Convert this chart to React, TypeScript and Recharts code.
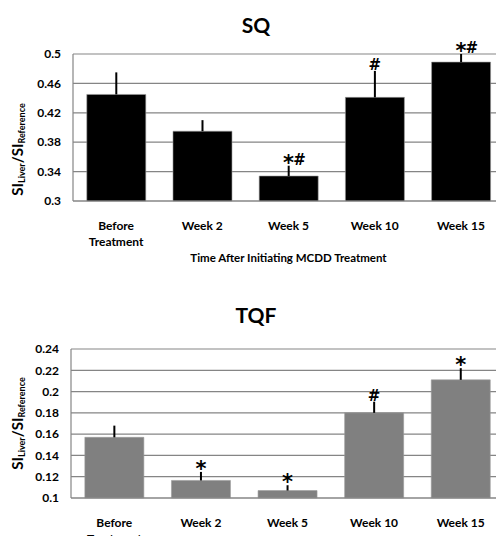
import React from "react"
import { Bar, ComposedChart, Line, XAxis, YAxis, CartesianGrid, ErrorBar, LabelList, Label } from "recharts"

const categories = ["Before\nTreatment", "Week 2", "Week 5", "Week 10", "Week 15"]

const sqValues = [0.445, 0.395, 0.334, 0.441, 0.489]
const sqErrors = [0.03, 0.015, 0.014, 0.036, 0.011]
const sqMarks = ["", "", "*#", "#", "*#"]
const sqTicks = [0.3, 0.34, 0.38, 0.42, 0.46, 0.5]

const tqfValues = [0.157, 0.1165, 0.107, 0.18, 0.211]
const tqfErrors = [0.011, 0.008, 0.005, 0.0105, 0.011]
const tqfMarks = ["", "*", "*", "#", "*"]
const tqfTicks = [0.1, 0.12, 0.14, 0.16, 0.18, 0.2, 0.22, 0.24]

const FONT = "Lato, 'Open Sans', sans-serif"
const GRID = "#858585"

const buildRows = (values: number[], errors: number[], marks: string[]) =>
  categories.map((name, i) => ({
    name,
    value: values[i],
    err: [0, errors[i]],
    top: values[i] + errors[i],
    mark: marks[i],
  }))

function CategoryTick({ x, y, payload }: any) {
  const lines = String(payload.value).split("\n")
  return (
    <text x={x} y={y + 21} textAnchor="middle" fontFamily={FONT} fontWeight={700} fontSize={12} fill="#000">
      {lines.map((l, i) => (
        <tspan key={i} x={x} dy={i === 0 ? 0 : 16}>
          {l}
        </tspan>
      ))}
    </text>
  )
}

// significance marks: '*' sits high in the font, so it gets its own baseline
function renderMark(props: any) {
  const { x, y, value } = props
  if (!value) return null
  const chars = String(value).split("")
  return (
    <text x={x} y={y} textAnchor="middle" fontWeight={700} fill="#000" fontFamily="'DejaVu Sans', sans-serif">
      {chars.map((c, i) =>
        c === "*" ? (
          <tspan key={i} y={y + 4} fontSize={21}>
            *
          </tspan>
        ) : (
          <tspan key={i} y={y - 1} fontSize={15}>
            {c}
          </tspan>
        )
      )}
    </text>
  )
}

function yLabel(shift: number) {
  return (props: any) => {
    const vb = props.viewBox || {}
    const cx = 17
    const cy = vb.y + vb.height / 2 + shift
    return (
      <text
        x={cx}
        y={cy}
        transform={`rotate(-90, ${cx}, ${cy})`}
        textAnchor="middle"
        dominantBaseline="central"
        fontFamily={FONT}
        fontWeight={700}
        fill="#000"
      >
        <tspan fontSize={15}>SI</tspan>
        <tspan fontSize={9} dy={4}>Liver</tspan>
        <tspan fontSize={15} dy={-4}>/SI</tspan>
        <tspan fontSize={9} dy={4}>Reference</tspan>
      </text>
    )
  }
}

type PanelProps = {
  title: string
  titleTop: number
  rows: any[]
  ticks: number[]
  color: string
  height: number
  marginTop: number
  axisHeight: number
  axisWidth: number
  labelShift: number
  xTitle?: string
}

function Panel(p: PanelProps) {
  return (
    <div style={{ position: "relative", width: 496, height: p.height, overflow: "hidden" }}>
      <div
        style={{
          position: "absolute",
          top: p.titleTop,
          left: 0,
          width: 512,
          textAlign: "center",
          fontFamily: FONT,
          fontWeight: 700,
          fontSize: 21,
          color: "#000",
          lineHeight: "24px",
        }}
      >
        {p.title}
      </div>
      <ComposedChart
        width={512}
        height={p.height + 40}
        data={p.rows}
        margin={{ top: p.marginTop, right: 8, bottom: 0, left: 0 }}
        barCategoryGap="16%"
      >
        <CartesianGrid vertical={false} stroke={GRID} strokeWidth={1.2} />
        <XAxis
          dataKey="name"
          interval={0}
          tickLine={false}
          axisLine={{ stroke: GRID, strokeWidth: 1.2 }}
          height={p.axisHeight}
          tick={<CategoryTick />}
        >
          {p.xTitle && (
            <Label
              value={p.xTitle}
              position="insideBottom"
              offset={p.axisHeight - 61}
              style={{ fontFamily: FONT, fontWeight: 700, fontSize: 11.5, fill: "#000" }}
            />
          )}
        </XAxis>
        <YAxis
          type="number"
          domain={[p.ticks[0], p.ticks[p.ticks.length - 1]]}
          ticks={p.ticks}
          interval={0}
          width={p.axisWidth}
          tickLine={false}
          tickSize={10}
          axisLine={{ stroke: GRID, strokeWidth: 1.2 }}
          tick={{ fontFamily: FONT, fontWeight: 700, fontSize: 12, fill: "#000" }}
        >
          <Label content={yLabel(p.labelShift)} />
        </YAxis>
        <Bar dataKey="value" fill={p.color} stroke="#9a9a9a" strokeWidth={0.6} isAnimationActive={false}>
          <ErrorBar dataKey="err" direction="y" width={0} stroke="#000" strokeWidth={2} />
        </Bar>
        <Line dataKey="top" stroke="none" dot={false} activeDot={false} isAnimationActive={false}>
          <LabelList dataKey="mark" content={renderMark} />
        </Line>
      </ComposedChart>
    </div>
  )
}

export default function App() {
  return (
    <div style={{ position: "absolute", left: 0, top: 0, width: 496, height: 536, overflow: "hidden", background: "#fff" }}>
      <Panel
        title="SQ"
        titleTop={13}
        rows={buildRows(sqValues, sqErrors, sqMarks)}
        ticks={sqTicks}
        color="#000"
        height={270}
        marginTop={54}
        axisHeight={109}
        axisWidth={73}
        labelShift={22}
        xTitle="Time After Initiating MCDD Treatment"
      />
      <Panel
        title="TQF"
        titleTop={33}
        rows={buildRows(tqfValues, tqfErrors, tqfMarks)}
        ticks={tqfTicks}
        color="#808080"
        height={266}
        marginTop={79}
        axisHeight={78}
        axisWidth={71}
        labelShift={0}
      />
    </div>
  )
}
